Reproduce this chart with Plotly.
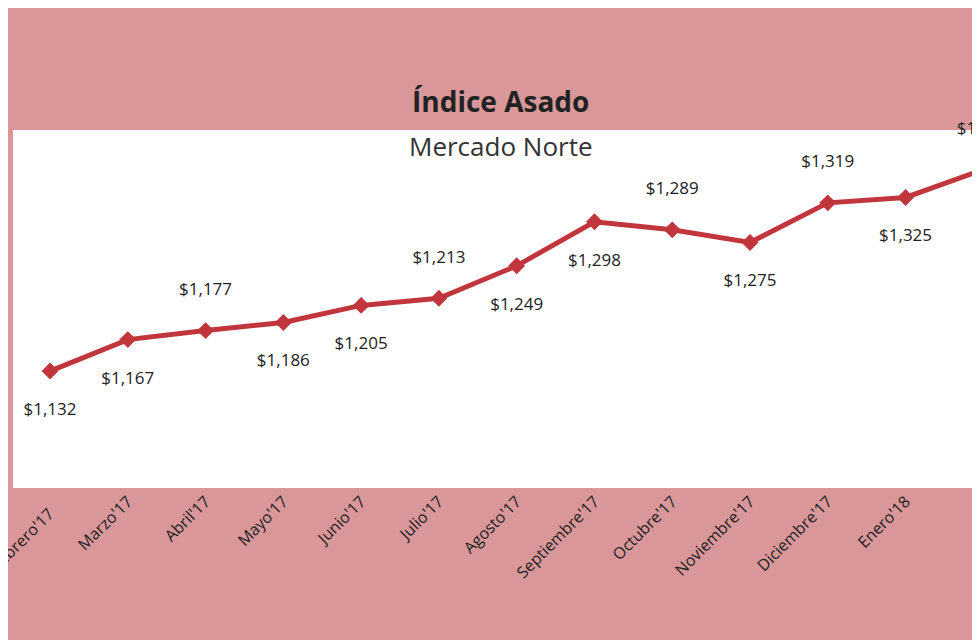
import plotly.graph_objects as go

months = ["Febrero'17","Marzo'17","Abril'17","Mayo'17","Junio'17","Julio'17","Agosto'17",
          "Septiembre'17","Octubre'17","Noviembre'17","Diciembre'17","Enero'18","Febrero'18"]
values = [1132,1167,1177,1186,1205,1213,1249,1298,1289,1275,1319,1325,1356]
positions = ["bottom center","bottom center","top center","bottom center","bottom center","top center",
             "bottom center","bottom center","top center","bottom center","top center","bottom center","top center"]

fig = go.Figure(go.Scatter(
    x=list(range(len(months))), y=values, mode="lines+markers+text",
    line=dict(color="#C0363C", width=5),
    marker=dict(symbol="diamond", size=13, color="#C0363C"),
    text=[f"<br>${v:,}<br>" for v in values], textposition=positions,
    textfont=dict(family="Open Sans", size=17, color="#222"),
    cliponaxis=False))

edge = dict(xref="x", yref="paper", y=0, yshift=-12, textangle=-45, showarrow=False,
            xanchor="right", yanchor="top", font=dict(family="Open Sans", size=16, color="#222"))
fig.update_layout(
    width=980, height=640, paper_bgcolor="#D9979A", plot_bgcolor="white",
    margin=dict(l=5, r=0, t=122, b=160), showlegend=False,
    xaxis=dict(range=[-0.476, 12.06], tickmode="array", tickvals=list(range(len(months))),
               ticktext=months, tickangle=-45, showgrid=False, zeroline=False,
               tickfont=dict(family="Open Sans", size=16, color="#222")),
    yaxis=dict(range=[1002, 1400], visible=False, showgrid=False),
    annotations=[
        dict(text="<b>Índice Asado</b>", x=0.5, y=1.0, xref="paper", yref="paper", yshift=50,
             showarrow=False, font=dict(family="Open Sans", size=28, color="#222")),
        dict(text="Mercado Norte", x=0.5, y=1.0, xref="paper", yref="paper", yshift=4,
             showarrow=False, font=dict(family="Open Sans", size=26, color="#333")),
        dict(edge, text=months[0], x=0.15),
        dict(edge, text=months[-1], x=12.15),
    ])
fig.write_html("out.html")
